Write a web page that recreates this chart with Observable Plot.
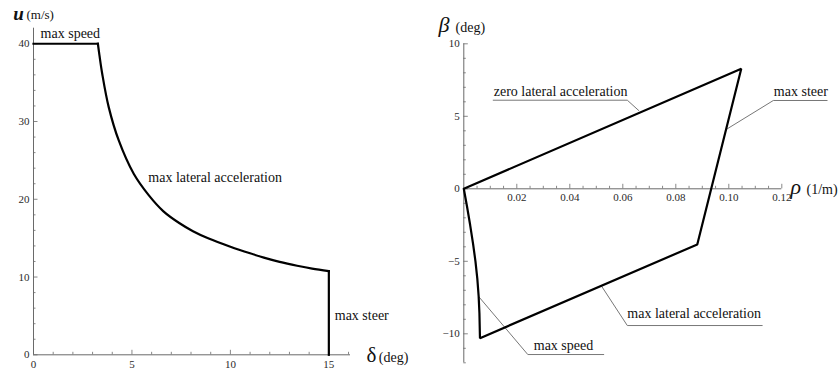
<!DOCTYPE html>
<html><head><meta charset="utf-8">
<script src="https://cdn.jsdelivr.net/npm/d3@7"></script>
<script src="https://cdn.jsdelivr.net/npm/@observablehq/plot@0.6"></script>
<style>
body{margin:0;background:#fff;}
#wrap{display:flex;width:839px;height:372px;overflow:hidden;}
#wrap svg{flex:none;}
</style></head><body><div id="wrap"></div>
<script>
// ---------- Left panel: speed u (m/s) vs steer angle δ (deg) ----------
const delta = [0, 3.27, 3.35, 3.49, 3.82, 4.33, 5.09, 5.86, 6.6, 7.4, 8.1, 8.9, 10.0, 11.0, 11.7, 12.5, 13.39, 14.15, 15.0, 15.0];
const speed = [40, 40, 38.5, 36.14, 31.85, 27.56, 23.28, 20.5, 18.45, 16.95, 15.9, 14.95, 13.9, 13.05, 12.5, 11.95, 11.45, 11.08, 10.75, 0];
const leftXMajor = [0, 5, 10, 15];
const leftXMinor = [1, 2, 3, 4, 6, 7, 8, 9, 11, 12, 13, 14, 16];
const leftYMajor = [0, 10, 20, 30, 40];
const leftYMinor = [2, 4, 6, 8, 12, 14, 16, 18, 22, 24, 26, 28, 32, 34, 36, 38];
const leftNotes = ["max speed", "max lateral acceleration", "max steer"];
const leftNoteX = [0.36, 5.83, 15.3];
const leftNoteY = [40.8, 22.16, 4.5];

// ---------- Right panel: sideslip β (deg) vs curvature ρ (1/m) ----------
const rho  = [0, 0.0012, 0.0024, 0.0035, 0.0044, 0.0051, 0.0056, 0.0059, 0.0061, 0.0881, 0.1047, 0];
const beta = [0, -1.2, -2.5, -3.8, -5.0, -6.2, -7.4, -8.6, -10.3, -3.84, 8.28, 0];
const rightXMajor = [0.02, 0.04, 0.06, 0.08, 0.10, 0.12];
const rightXMinor = [0.005, 0.01, 0.015, 0.025, 0.03, 0.035, 0.045, 0.05, 0.055, 0.065, 0.07, 0.075, 0.085, 0.09, 0.095, 0.105, 0.11, 0.115];
const rightYMajor = [-10, -5, 0, 5, 10];
const rightYMinor = [-12, -11, -9, -8, -7, -6, -4, -3, -2, -1, 1, 2, 3, 4, 6, 7, 8, 9];
const rightNotes = ["zero lateral acceleration", "max steer", "max lateral acceleration", "max speed"];
const rightNoteX = [0.0113, 0.117, 0.0617, 0.0264];
const rightNoteY = [6.37, 6.4, -8.9, -11.15];
// leader lines (callouts): point on curve -> elbow -> end of underline
const leaderId   = [0, 0, 0, 1, 1, 1, 2, 2, 2, 3, 3, 3];
const leaderRho  = [0.066, 0.0617, 0.0111, 0.0990, 0.1168, 0.1371, 0.0519, 0.0617, 0.1126, 0.0057, 0.02415, 0.0528];
const leaderBeta = [5.4, 6.11, 6.11, 4.09, 6.09, 6.09, -6.69, -9.43, -9.43, -7.45, -11.43, -11.43];

const FONT = "Liberation Serif, Times New Roman, serif";
const AXIS = "#6a6a6a";
const LABEL = "#2a2a2a";
const fmtNeg = d => d < 0 ? "\u2212" + (-d) : String(d);

function ticksX(vals, len) {
  return Plot.ruleX(vals, {x: d => d, y1: () => 0, y2: () => 0, insetTop: -len, stroke: AXIS, strokeWidth: 0.8});
}
function ticksY(vals, xv, len) {
  return Plot.ruleY(vals, {y: d => d, x1: () => xv, x2: () => xv, insetRight: -len, stroke: AXIS, strokeWidth: 0.8});
}

const n = delta.length;
const segFlat = [0, 1];                       // max speed plateau
const segCurve = d3.range(1, n - 1);          // max lateral acceleration
const segDrop = [n - 2, n - 1];               // max steer
const curveStyle = {x: i => delta[i], y: i => speed[i], stroke: "black", strokeWidth: 2.2, strokeLinecap: "square", strokeLinejoin: "miter"};

const left = Plot.plot({
  width: 420, height: 372,
  marginLeft: 33, marginRight: 70, marginTop: 27.7, marginBottom: 17.7,
  x: {domain: [0, 16.1], axis: null},
  y: {domain: [0, 42], axis: null},
  style: {fontFamily: FONT, background: "white", overflow: "visible"},
  marks: [
    Plot.ruleY([0], {stroke: AXIS, strokeWidth: 1}),
    Plot.ruleX([0], {stroke: AXIS, strokeWidth: 1}),
    ticksX(leftXMajor, 4.5), ticksX(leftXMinor, 2.5),
    ticksY(leftYMajor, 0, 4.5), ticksY(leftYMinor, 0, 2.5),
    Plot.text(leftXMajor, {x: d => d, y: () => 0, text: d => String(d), dy: 10, lineAnchor: "middle", fontSize: 11, fontFamily: FONT, fill: LABEL}),
    Plot.text(leftYMajor, {x: () => 0, y: d => d, text: d => String(d), dx: -4, textAnchor: "end", lineAnchor: "middle", fontSize: 11, fontFamily: FONT, fill: LABEL}),
    Plot.line(segFlat, curveStyle),
    Plot.line(segCurve, {...curveStyle, curve: "catmull-rom"}),
    Plot.line(segDrop, curveStyle),
    Plot.text(leftNotes, {x: (d, i) => leftNoteX[i], y: (d, i) => leftNoteY[i], text: d => d, textAnchor: "start", lineAnchor: "bottom", fontSize: 14, fontFamily: FONT, fill: "#111"}),
    Plot.text(["u"], {frameAnchor: "top-left", text: d => d, dx: -20.3, dy: -8.4, textAnchor: "start", lineAnchor: "bottom", fontSize: 19, fontWeight: "bold", fontStyle: "italic", fontFamily: FONT, fill: "#111"}),
    Plot.text(["(m/s)"], {frameAnchor: "top-left", text: d => d, dx: -7, dy: -9, textAnchor: "start", lineAnchor: "bottom", fontSize: 13, fontFamily: FONT, fill: "#111"}),
    Plot.text(["δ"], {x: () => 16.1, y: () => 0, text: d => d, dx: 16, dy: 7.4, textAnchor: "start", lineAnchor: "bottom", fontSize: 21, fontFamily: FONT, fill: "#111"}),
    Plot.text(["(deg)"], {x: () => 16.1, y: () => 0, text: d => d, dx: 28.3, dy: 7.4, textAnchor: "start", lineAnchor: "bottom", fontSize: 14, fontFamily: FONT, fill: "#111"})
  ]
});

const right = Plot.plot({
  width: 419, height: 372,
  marginLeft: 43.3, marginRight: 57.7, marginTop: 43.3, marginBottom: 9.7,
  x: {domain: [0, 0.12], axis: null},
  y: {domain: [-12, 10], axis: null},
  style: {fontFamily: FONT, background: "white", overflow: "visible"},
  marks: [
    Plot.ruleY([0], {stroke: AXIS, strokeWidth: 1}),
    Plot.ruleX([0], {stroke: AXIS, strokeWidth: 1}),
    ticksX(rightXMajor, 4.5), ticksX(rightXMinor, 2.5),
    ticksY(rightYMajor, 0, 4.5), ticksY(rightYMinor, 0, 2.5),
    Plot.text(rightXMajor, {x: d => d, y: () => 0, text: d => d3.format(".2f")(d), dy: 9, lineAnchor: "middle", fontSize: 11, fontFamily: FONT, fill: LABEL}),
    Plot.text(rightYMajor, {x: () => 0, y: d => d, text: fmtNeg, dx: -4, textAnchor: "end", lineAnchor: "middle", fontSize: 11, fontFamily: FONT, fill: LABEL}),
    Plot.line(leaderRho, {x: d => d, y: (d, i) => leaderBeta[i], z: (d, i) => leaderId[i], stroke: "#777", strokeWidth: 1}),
    Plot.line(rho, {x: d => d, y: (d, i) => beta[i], stroke: "black", strokeWidth: 2.2, strokeLinejoin: "miter"}),
    Plot.text(rightNotes, {x: (d, i) => rightNoteX[i], y: (d, i) => rightNoteY[i], text: d => d, textAnchor: "start", lineAnchor: "bottom", fontSize: 14, fontFamily: FONT, fill: "#111"}),
    Plot.text(["β"], {frameAnchor: "top-left", text: d => d, dx: -25.3, dy: -11.6, textAnchor: "start", lineAnchor: "bottom", fontSize: 22, fontStyle: "italic", fontFamily: FONT, fill: "#111"}),
    Plot.text(["(deg)"], {frameAnchor: "top-left", text: d => d, dx: -8.3, dy: -11.6, textAnchor: "start", lineAnchor: "bottom", fontSize: 14, fontFamily: FONT, fill: "#111"}),
    Plot.text(["ρ"], {x: () => 0.12, y: () => 0, text: d => d, dx: 8.7, dy: 4.7, textAnchor: "start", lineAnchor: "bottom", fontSize: 22, fontStyle: "italic", fontFamily: FONT, fill: "#111"}),
    Plot.text(["(1/m)"], {x: () => 0.12, y: () => 0, text: d => d, dx: 24.7, dy: 4.7, textAnchor: "start", lineAnchor: "bottom", fontSize: 14, fontFamily: FONT, fill: "#111"})
  ]
});

document.getElementById("wrap").append(left, right);
</script>
</body></html>
